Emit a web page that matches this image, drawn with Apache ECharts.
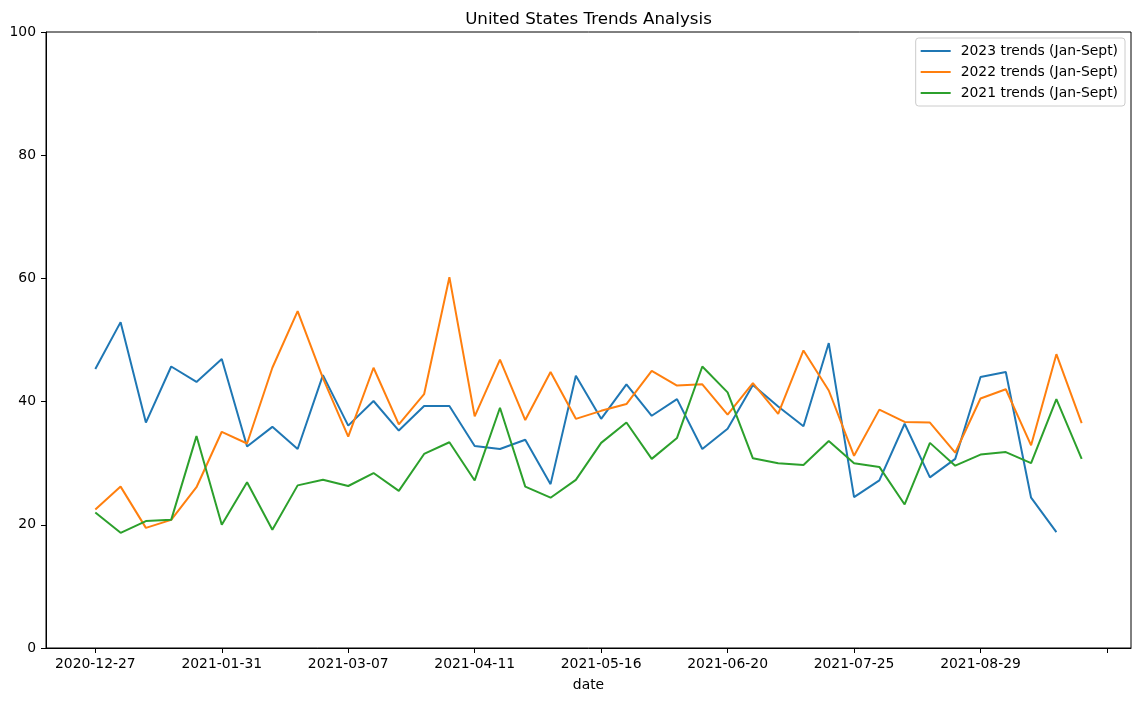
<!DOCTYPE html>
<html>
<head>
<meta charset="utf-8">
<script src="https://cdn.jsdelivr.net/npm/echarts@6/dist/echarts.min.js"></script>
<style>
html,body{margin:0;padding:0;background:#fff;}
#chart{width:1141px;height:701px;}
</style>
</head>
<body>
<div id="chart"></div>
<script>
const dates = ["2020-12-27","2021-01-03","2021-01-10","2021-01-17","2021-01-24","2021-01-31","2021-02-07","2021-02-14","2021-02-21","2021-02-28",
"2021-03-07","2021-03-14","2021-03-21","2021-03-28","2021-04-04","2021-04-11","2021-04-18","2021-04-25","2021-05-02","2021-05-09",
"2021-05-16","2021-05-23","2021-05-30","2021-06-06","2021-06-13","2021-06-20","2021-06-27","2021-07-04","2021-07-11","2021-07-18",
"2021-07-25","2021-08-01","2021-08-08","2021-08-15","2021-08-22","2021-08-29","2021-09-05","2021-09-12","2021-09-19","2021-09-26"];
const tickIndexes = [0,5,10,15,20,25,30,35,40];
const labelIndexes = [0,5,10,15,20,25,30,35];
const yTicks = [0,20,40,60,80,100];
const seriesNames = ["2023 trends (Jan-Sept)","2022 trends (Jan-Sept)","2021 trends (Jan-Sept)"];
const trends2023 = [45.3,52.9,36.6,45.7,43.2,46.9,32.7,35.9,32.3,44.3,36.1,40.1,35.3,39.3,39.3,32.8,32.3,33.8,26.6,44.2,37.2,42.8,37.7,40.4,32.3,35.6,42.7,39.2,36.0,49.5,24.5,27.2,36.4,27.7,30.7,44.0,44.8,24.4,18.8];
const trends2022 = [22.5,26.2,19.5,20.8,26.1,35.1,33.2,45.5,54.7,43.8,34.3,45.5,36.3,41.2,60.2,37.6,46.8,37.0,44.8,37.2,38.5,39.6,45.0,42.6,42.8,37.9,43.0,38.0,48.3,41.8,31.2,38.7,36.7,36.6,31.7,40.5,42.0,32.9,47.7,36.5];
const trends2021 = [22.0,18.7,20.6,20.8,34.4,20.0,26.9,19.2,26.4,27.3,26.3,28.4,25.5,31.5,33.4,27.2,39.0,26.2,24.4,27.3,33.3,36.6,30.7,34.1,45.7,41.5,30.8,30.0,29.7,33.6,30.0,29.4,23.3,33.3,29.6,31.4,31.8,30.0,40.4,30.7];
const colors = ["#1f77b4","#ff7f0e","#2ca02c"];

const FONT = "DejaVu Sans";
const toPairs = arr => arr.map((v, i) => [i, v]);
const allData = [trends2023, trends2022, trends2021];

const chart = echarts.init(document.getElementById('chart'), null, {renderer: 'canvas'});
chart.setOption({
  animation: false,
  backgroundColor: '#ffffff',
  textStyle: {fontFamily: FONT},
  title: {
    text: 'United States Trends Analysis',
    left: 588.5, top: 11, textAlign: 'center', padding: 0,
    textStyle: {fontFamily: FONT, fontSize: 16.7, fontWeight: 'normal', color: '#000'}
  },
  legend: {
    orient: 'vertical', right: 16, top: 38,
    data: seriesNames,
    icon: 'rect',
    itemWidth: 30, itemHeight: 2, itemGap: 7,
    padding: [6, 7, 6, 5],
    backgroundColor: 'rgba(255,255,255,0.8)',
    borderColor: '#cccccc', borderWidth: 1, borderRadius: 3,
    textStyle: {fontFamily: FONT, fontSize: 13.9, color: '#000', padding: [0,0,0,5], lineHeight: 14}
  },
  grid: {left: 46, right: 10, top: 32, bottom: 53, show: true, borderColor: '#000', borderWidth: 1, backgroundColor: 'transparent'},
  xAxis: {
    type: 'value', min: -1.95, max: 40.95,
    name: 'date', nameLocation: 'middle', nameGap: 30,
    nameTextStyle: {fontFamily: FONT, fontSize: 13.9, color: '#000'},
    axisLine: {show: true, onZero: false, lineStyle: {color: '#000', width: 1}},
    axisTick: {show: true, inside: false, length: 5, lineStyle: {color: '#000'}, customValues: tickIndexes},
    axisLabel: {customValues: labelIndexes, margin: 9, fontFamily: FONT, fontSize: 13.9, color: '#000',
      formatter: v => dates[Math.round(v)] || ''},
    splitLine: {show: false}
  },
  yAxis: {
    type: 'value', min: 0, max: 100, interval: 20,
    axisLine: {show: true, onZero: false, lineStyle: {color: '#000', width: 1}},
    axisTick: {show: true, inside: false, length: 5, lineStyle: {color: '#000', width: 1}, customValues: yTicks},
    axisLabel: {margin: 10, fontFamily: FONT, fontSize: 13.9, color: '#000'},
    splitLine: {show: false}
  },
  series: allData.map((arr, k) => ({
    name: seriesNames[k], type: 'line', data: toPairs(arr),
    symbol: 'none', color: colors[k],
    lineStyle: {width: 2, color: colors[k]}
  }))
});
</script>
</body>
</html>
